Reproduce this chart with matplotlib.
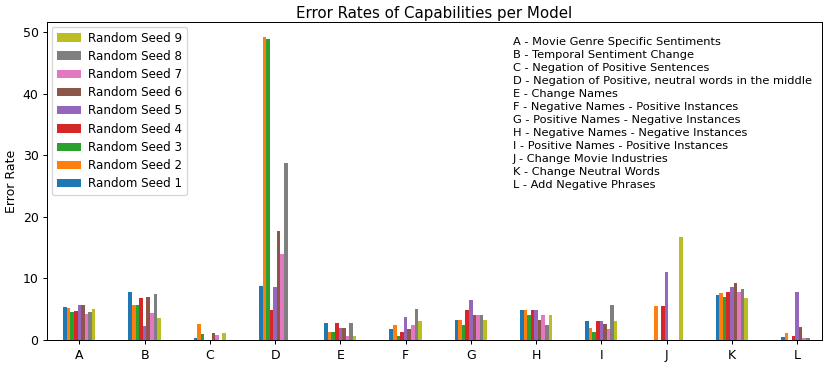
import numpy as np
import matplotlib
matplotlib.use('Agg')
import matplotlib.pyplot as plt

capabilities = ['A', 'B', 'C', 'D', 'E', 'F', 'G', 'H', 'I', 'J', 'K', 'L']
descriptions = [
    'A - Movie Genre Specific Sentiments',
    'B - Temporal Sentiment Change',
    'C - Negation of Positive Sentences',
    'D - Negation of Positive, neutral words in the middle',
    'E - Change Names',
    'F - Negative Names - Positive Instances',
    'G - Positive Names - Negative Instances',
    'H - Negative Names - Negative Instances',
    'I - Positive Names - Positive Instances',
    'J - Change Movie Industries',
    'K - Change Neutral Words',
    'L - Add Negative Phrases',
]

# error rate per capability, one list per seed
seed1 = [5.4, 7.75, 0.27, 8.75, 2.7, 1.85, 3.2, 4.85, 3.15, 0.0, 7.25, 0.55]
seed2 = [5.25, 5.7, 2.6, 49.1, 1.3, 2.5, 3.2, 4.85, 1.9, 5.55, 7.6, 1.15]
seed3 = [4.5, 5.7, 1.0, 48.85, 1.3, 0.65, 2.4, 4.05, 1.25, 0.0, 7.0, 0.0]
seed4 = [4.75, 6.9, 0.0, 4.9, 2.7, 1.25, 4.85, 4.85, 3.15, 5.55, 7.75, 0.6]
seed5 = [5.7, 2.3, 0.0, 8.6, 2.0, 3.75, 6.5, 4.85, 3.15, 11.1, 8.6, 7.8]
seed6 = [5.7, 7.05, 1.15, 17.65, 2.0, 1.85, 4.05, 3.2, 2.55, 0.0, 9.2, 2.15]
seed7 = [4.3, 4.4, 0.8, 14.0, 0.65, 2.5, 4.05, 4.05, 1.85, 0.0, 7.75, 0.33]
seed8 = [4.6, 7.4, 0.0, 28.8, 2.7, 5.1, 4.05, 2.4, 5.75, 0.0, 8.35, 0.33]
seed9 = [5.0, 3.5, 1.15, 0.0, 0.65, 3.1, 3.2, 4.05, 3.15, 16.65, 6.8, 0.0]

seeds = [seed1, seed2, seed3, seed4, seed5, seed6, seed7, seed8, seed9]

x = np.arange(len(capabilities))
width = 0.055

fig, ax = plt.subplots(figsize=(831 / 90, 368 / 90), dpi=90)
for i, vals in enumerate(seeds):
    offset = (i - (len(seeds) - 1) / 2) * width
    ax.bar(x + offset, vals, width, label='Random Seed %d' % (i + 1))

ax.set_xticks(x)
ax.set_xticklabels(capabilities)
ax.set_xlim(-0.49, 11.38)
ax.set_ylim(0, 51.6)
ax.set_ylabel('Error Rate')
ax.set_title('Error Rates of Capabilities per Model', pad=3.5)

handles, labels = ax.get_legend_handles_labels()
ax.legend(handles[::-1], labels[::-1], loc='upper left', fontsize=9.5,
          labelspacing=0.44, handletextpad=0.6, borderaxespad=0.4)

ax.text(0.601, 0.952, '\n'.join(descriptions), transform=ax.transAxes,
        va='top', ha='left', fontsize=9.1, linespacing=1.37)

plt.subplots_adjust(left=0.057, right=0.989, top=0.94, bottom=0.076)
plt.savefig('out.png')
